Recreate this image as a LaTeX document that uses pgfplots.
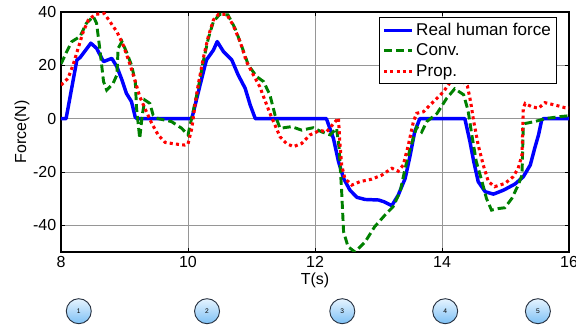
\documentclass[border=0pt]{standalone}
\usepackage{pgfplots}
\pgfplotsset{compat=1.18}
\usepackage{fontspec}
\setmainfont{Liberation Sans}
\definecolor{gridgray}{RGB}{150,150,150}
\definecolor{cgreen}{RGB}{0,128,0}
\definecolor{circedge}{RGB}{40,50,65}
\definecolor{circtop}{RGB}{230,244,255}
\definecolor{circbot}{RGB}{125,192,245}
\tikzset{numcirc/.style={circle, draw=circedge, line width=0.7pt, top color=circtop, bottom color=circbot, minimum size=18.75pt, inner sep=0pt, font=\fontsize{5}{6}\selectfont}}
\begin{document}
\begin{tikzpicture}
\begin{axis}[
  scale only axis,
  width=381pt, height=180pt,
  xmin=8, xmax=16, ymin=-50, ymax=40,
  xtick={8,10,12,14,16}, ytick={-40,-20,0,20,40},
  grid=major,
  major grid style={gridgray, line width=0.6pt},
  tick align=inside,
  major tick length=3pt,
  tick style={black, line width=0.6pt},
  axis line style={black, line width=0.8pt},
  xlabel={T(s)}, ylabel={Force(N)},
  label style={font=\fontsize{12}{14}\selectfont},
  tick label style={font=\fontsize{12}{14}\selectfont},
  /pgf/number format/assume math mode=true,
  xlabel style={yshift=3pt},
  ylabel style={yshift=-4pt},
  clip mode=individual,
  legend cell align=left,
  legend style={at={(0.976,0.979)}, anchor=north east, draw=black, line width=0.8pt,
    font=\fontsize{12.8}{15}\selectfont, inner xsep=2pt, inner ysep=2pt, row sep=1pt,
    /tikz/every even column/.append style={column sep=2pt}},
  legend image code/.code={\draw[#1, line width=2.2pt] (0pt,0pt) -- (21pt,0pt);},
]
\addplot[blue, line width=2.6pt, line join=round] coordinates {
(8,0)(8.08,0)(8.25,22)(8.3,22.9)(8.47,28.3)(8.56,26.4)(8.67,21.4)(8.8,22.6)(8.88,19.5)(8.96,14.5)(9.03,9.5)(9.11,6.4)(9.17,0.5)(9.2,0)(10.06,0)(10.19,12.6)(10.29,22)(10.4,25.7)(10.46,28.9)(10.56,25.1)(10.69,22)(10.79,16.4)(10.9,11.4)(10.98,5.1)(11.06,0)(12.18,0)(12.29,-7.4)(12.37,-16.1)(12.45,-22.4)(12.55,-26.8)(12.66,-29.5)(12.79,-30.3)(13.0,-30.5)(13.08,-31.1)(13.21,-32.6)(13.31,-28.7)(13.42,-22.4)(13.5,-13.6)(13.57,-4.9)(13.65,0)(14.36,0)(14.44,-8.6)(14.5,-16.1)(14.57,-23.6)(14.68,-27.4)(14.81,-28.3)(14.97,-26.8)(15.15,-24.5)(15.28,-21.8)(15.39,-17.4)(15.46,-11.1)(15.52,-6.1)(15.57,-0.5)(15.6,0)(16,0)
};
\addlegendentry{Real human force}
\addplot[cgreen, line width=2.2pt, dash pattern=on 6pt off 3pt] coordinates {
(8.0,20.5)(8.09,25.1)(8.17,28.9)(8.3,30.8)(8.4,35.8)(8.51,38.3)(8.56,35.8)(8.61,26.4)(8.67,13.9)(8.72,10.7)(8.82,13.2)(8.88,16.4)(8.9,26.4)(8.96,28.9)(9.03,25.1)(9.11,20.1)(9.17,13.9)(9.19,3.9)(9.24,-7.4)(9.28,1.4)(9.32,7.0)(9.4,5.7)(9.45,1.4)(9.53,0)(9.74,-1.1)(9.9,-3.6)(10.0,-6.1)(10.08,2.6)(10.16,11.4)(10.24,21.4)(10.32,30.1)(10.4,36.4)(10.5,39.1)(10.63,38.9)(10.74,33.9)(10.84,27.6)(10.95,20.1)(11.08,15.8)(11.19,13.9)(11.29,8.9)(11.37,1.4)(11.45,-3.6)(11.63,-3.0)(11.79,-4.3)(11.97,-3.4)(12.1,-4.9)(12.24,-6.1)(12.34,-3.6)(12.38,-11.1)(12.42,-27.4)(12.45,-42.4)(12.52,-48)(12.63,-50)(12.79,-46.2)(12.94,-40.5)(13.1,-36.2)(13.23,-33)(13.34,-27.4)(13.42,-18.6)(13.5,-11.1)(13.6,-3.2)(13.68,-5)(13.76,-1.1)(13.92,1.9)(14.07,7.5)(14.2,11.2)(14.34,9.0)(14.41,3.1)(14.47,-6.1)(14.54,-16.1)(14.63,-23.6)(14.7,-29.9)(14.78,-34.3)(14.89,-33.7)(14.99,-33.4)(15.1,-29.9)(15.2,-24.9)(15.26,-21.2)(15.28,-2.4)(15.31,-1.8)(15.46,-1.1)(15.62,0)(15.83,0.7)(16,1.1)
};
\addlegendentry{Conv.}
\addplot[red, line width=2.3pt, dash pattern=on 2.3pt off 2.4pt] coordinates {
(8.0,12.6)(8.11,15.1)(8.19,20.1)(8.27,26.4)(8.35,32.6)(8.43,37)(8.54,39.1)(8.68,39.5)(8.77,36.4)(8.88,32.6)(8.98,27.6)(9.09,20.1)(9.17,13.9)(9.24,8.3)(9.32,3.9)(9.43,-1.8)(9.53,-6.1)(9.64,-8.9)(9.8,-9.5)(9.95,-9.9)(10.0,-9.5)(10.06,-3.6)(10.11,5.1)(10.16,12.6)(10.24,22.6)(10.32,30.8)(10.4,37)(10.48,39.1)(10.61,39.1)(10.71,35.1)(10.82,28.9)(10.92,21.4)(11.03,16.4)(11.13,12)(11.21,7)(11.29,2)(11.37,-2.4)(11.45,-6.8)(11.55,-9.3)(11.66,-10.5)(11.79,-9.3)(11.92,-6.1)(12.08,-4.4)(12.18,-5)(12.29,-1.9)(12.37,0.3)(12.39,-8.6)(12.42,-17.4)(12.47,-22.4)(12.58,-24.9)(12.71,-23.6)(12.89,-22.7)(13.05,-21.2)(13.21,-18.6)(13.31,-19.7)(13.39,-17.4)(13.47,-9.9)(13.55,-1.1)(13.6,2)(13.71,2.6)(13.81,5.1)(13.92,7.6)(14.02,10)(14.13,13.7)(14.25,15.5)(14.35,13.5)(14.4,12.3)(14.45,6.4)(14.5,-1.1)(14.57,-9.9)(14.65,-17.4)(14.73,-23.6)(14.83,-25.5)(14.99,-24.3)(15.12,-21.8)(15.2,-18.6)(15.26,-13.6)(15.28,3.9)(15.31,5.7)(15.41,4.5)(15.52,3.9)(15.62,6)(15.78,5.1)(15.94,4.1)(16,4)
};
\addlegendentry{Prop.}
\node[numcirc] at (axis cs:8.28,-72.2) {1};
\node[numcirc] at (axis cs:10.30,-72.2) {2};
\node[numcirc] at (axis cs:12.43,-72.2) {3};
\node[numcirc] at (axis cs:14.05,-72.2) {4};
\node[numcirc] at (axis cs:15.51,-72.2) {5};
\end{axis}
\pgfresetboundingbox
\path ([shift={(-45.75pt,-56.25pt)}]current axis.south west) rectangle ([shift={(5.25pt,9pt)}]current axis.north east);
\end{tikzpicture}
\end{document}
